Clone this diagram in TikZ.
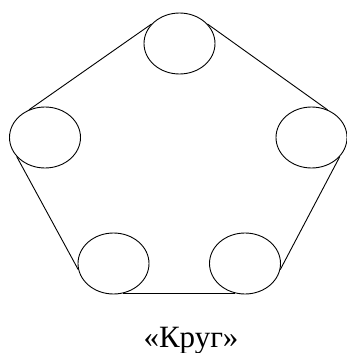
\documentclass[tikz,border=0pt]{standalone}
\usepackage{fontspec}
\setmainfont{Liberation Serif}
\usetikzlibrary{shapes.geometric}
\begin{document}
\begin{tikzpicture}[x=1pt,y=-1pt,
  seat/.style={ellipse,draw,line width=0.9pt,minimum width=71pt,minimum height=61pt,inner sep=0pt},
  edge/.style={line width=0.9pt}]
\useasboundingbox (0,0) rectangle (347,353);
\node[seat] (T) at (179.5,43.5) {};
\node[seat] (L) at (45,137.5) {};
\node[seat] (R) at (311.5,137.5) {};
\node[seat] (BL) at (113.5,263.5) {};
\node[seat] (BR) at (245,263.5) {};
\draw[edge] (L.120) -- (T.145);
\draw[edge] (T.35) -- (R.60);
\draw[edge] (R.-34) -- (BR.-10);
\draw[edge] (BL.190) -- (L.214);
\draw[edge] (BL.-72) -- (BR.-108);
\node[anchor=base,inner sep=0pt,font=\fontsize{31}{33}\selectfont] (cap) at (191,347) {«Круг»};
\end{tikzpicture}
\end{document}
